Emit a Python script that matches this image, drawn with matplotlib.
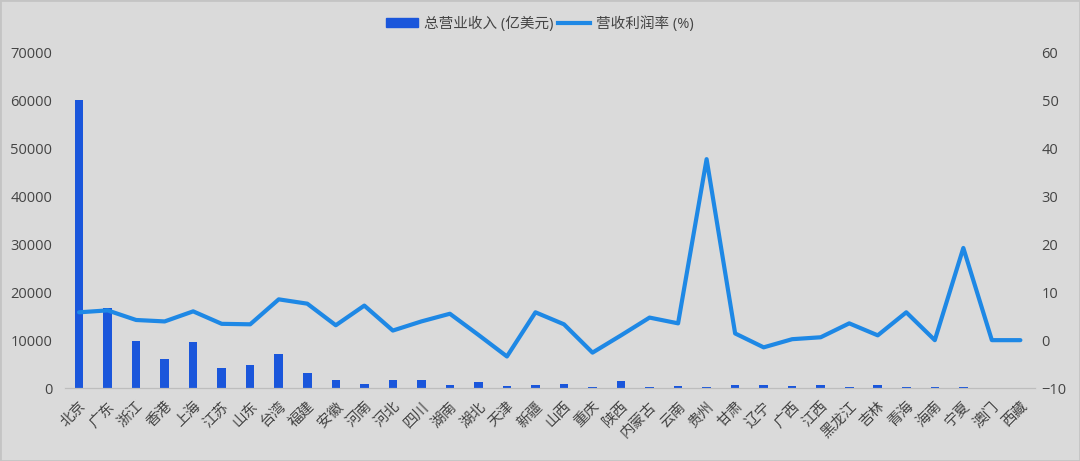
import numpy as np
import matplotlib
matplotlib.use("Agg")
import matplotlib.pyplot as plt
from matplotlib.patches import Patch
from matplotlib.lines import Line2D

plt.rcParams["font.family"] = ["Open Sans", "Noto Sans CJK SC", "DejaVu Sans"]

# ------------------------------------------------------------
#  Data
# ------------------------------------------------------------
provinces = ["北京", "广东", "浙江", "香港", "上海", "江苏", "山东", "台湾", "福建",
             "安徽", "河南", "河北", "四川", "湖南", "湖北", "天津", "新疆", "山西",
             "重庆", "陕西", "内蒙古", "云南", "贵州", "甘肃", "辽宁", "广西", "江西",
             "黑龙江", "吉林", "青海", "海南", "宁夏", "澳门", "西藏"]

revenue = [60100, 16700, 9860, 6040, 9580, 4240, 4860, 7080, 3260,
           1670, 830, 1670, 1800, 560, 1250, 350, 700, 970,
           200, 1530, 200, 350, 200, 620, 560, 420, 700,
           150, 620, 150, 150, 150, 0, 0]

margin = [5.8, 6.2, 4.2, 3.9, 6.0, 3.4, 3.3, 8.5, 7.6,
          3.1, 7.2, 2.0, 3.9, 5.5, 1.1, -3.4, 5.8, 3.3,
          -2.6, 1.0, 4.7, 3.5, 37.7, 1.4, -1.5, 0.2, 0.6,
          3.5, 1.0, 5.8, 0.0, 19.2, 0.0, 0.0]

BG = "#dadada"
BAR_C = "#1a56db"
LINE_C = "#1e88e5"
TXT = "#444444"

fig = plt.figure(figsize=(10.8, 4.61), dpi=100, facecolor=BG)
ax = fig.add_axes([0.060, 0.158, 0.898, 0.729], facecolor=BG)
ax2 = ax.twinx()

x = np.arange(len(provinces))
ax.bar(x, revenue, width=0.3, color=BAR_C, zorder=2)
ax2.plot(x, margin, color=LINE_C, linewidth=3, solid_joinstyle="round",
         solid_capstyle="round", zorder=3)

ax.set_xlim(-0.5, len(provinces) - 0.5)
ax.set_ylim(0, 70000)
ax.set_yticks(np.arange(0, 70001, 10000))
ax2.set_ylim(-10, 60)
ax2.set_yticks(np.arange(-10, 61, 10))

ax.set_xticks(x)
ax.set_xticklabels(provinces, rotation=45, ha="right", rotation_mode="anchor",
                   fontsize=10.5, color=TXT)
ax.tick_params(axis="x", length=0, pad=8)
ax.tick_params(axis="y", length=0, pad=9, labelsize=10.5, labelcolor=TXT)
ax2.tick_params(axis="y", length=0, pad=5, labelsize=10.5, labelcolor=TXT)

for a in (ax, ax2):
    for s in ("top", "right", "left"):
        a.spines[s].set_visible(False)
    a.spines["bottom"].set_color("#bdbdbd")

handles = [Patch(color=BAR_C), Line2D([0], [0], color=LINE_C, linewidth=3)]
labels = ["总营业收入 (亿美元)", "营收利润率 (%)"]
fig.legend(handles, labels, loc="center", bbox_to_anchor=(0.5, 0.948), ncol=2,
           frameon=False, fontsize=10.5, labelcolor=TXT, handlelength=2.2,
           handleheight=0.6, handletextpad=0.4, columnspacing=0.3)

fig.patches.append(plt.Rectangle((0, 0), 1, 1, transform=fig.transFigure,
                                 fill=False, edgecolor="#c4c4c4", linewidth=2))

fig.savefig("out.png", dpi=100, facecolor=BG)
